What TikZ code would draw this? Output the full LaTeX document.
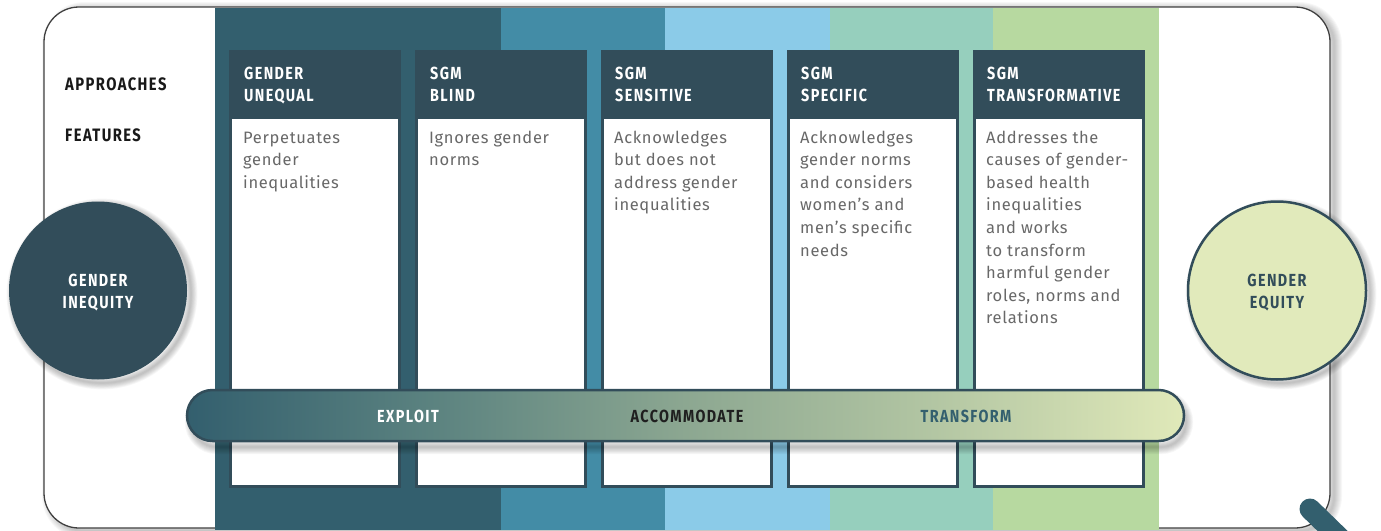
\documentclass[tikz,border=0pt]{standalone}
\usepackage{fontspec}
\setmainfont{Fira Sans}
\newfontfamily\hdrfont{Fira Sans}[FakeStretch=0.82,LetterSpace=8]
\newfontfamily\bdyfont{Fira Sans}[LetterSpace=4]
\definecolor{bandA}{HTML}{335F6E}
\definecolor{bandB}{HTML}{438CA6}
\definecolor{bandC}{HTML}{8BCBE8}
\definecolor{bandD}{HTML}{96CFBD}
\definecolor{bandE}{HTML}{B7D9A0}
\definecolor{hdrdark}{HTML}{324D5A}
\definecolor{eqfill}{HTML}{E1EABB}
\definecolor{bodytext}{HTML}{686868}
\definecolor{gA}{HTML}{335F6E}
\definecolor{gB}{HTML}{5C8380}
\definecolor{gC}{HTML}{8CA791}
\definecolor{gD}{HTML}{B3C6A3}
\definecolor{gE}{HTML}{E0E9B9}
\pgfdeclarehorizontalshading{barshade}{100bp}{color(0bp)=(gA); color(25bp)=(gA); color(37.5bp)=(gB); color(50bp)=(gC); color(62.5bp)=(gD); color(75bp)=(gE); color(100bp)=(gE)}
\begin{document}
\begin{tikzpicture}[x=1pt,y=-1pt,
  hdr/.style={inner sep=0pt, anchor=base west, text=white, font=\hdrfont\bfseries\fontsize{17.5}{22}\selectfont},
  lbl/.style={inner sep=0pt, anchor=base west, text=black!90, font=\hdrfont\bfseries\fontsize{18}{22}\selectfont},
  bdy/.style={inner sep=0pt, anchor=base west, text=bodytext, font=\bdyfont\fontsize{16.5}{22.6}\selectfont},
  ctext/.style={inner sep=0pt, anchor=base, font=\hdrfont\bfseries\fontsize{17.5}{22}\selectfont},
  headbox/.style={fill=hdrdark},
  bodybox/.style={fill=white, draw=hdrdark, line width=3pt},
  shadowline/.style={black, opacity=0.03}
]
\useasboundingbox (0,0) rectangle (1381,530);
% outer frame shadow and frame
\foreach \i in {1,...,8} \draw[shadowline, line width=\i*2pt, rounded corners=35pt] (50,10) rectangle (1334,531);
\draw[draw=black!75, line width=1.3pt, fill=white, rounded corners=35pt] (44,7) rectangle (1330,528);
% bands
\fill[bandA] (215,8) rectangle (501,530);
\fill[bandB] (501,8) rectangle (665,530);
\fill[bandC] (665,8) rectangle (830,530);
\fill[bandD] (830,8) rectangle (993,530);
\fill[bandE] (993,8) rectangle (1159,530);
% columns
\foreach \x in {229,415,601,787,973} {
  \fill[headbox] (\x,50) rectangle (\x+172,117);
  \draw[bodybox] (\x+1.5,117) rectangle (\x+170.5,486);
}
% left labels
\node[lbl] (appr) at (65,90) {APPROACHES};
\node[lbl] (feat) at (65,141.7) {FEATURES};
% headers
\node[hdr] (h1) at (244,79) {\parbox[t]{160pt}{\raggedright GENDER\\UNEQUAL}};
\node[hdr] (h2) at (430,79) {\parbox[t]{160pt}{\raggedright SGM\\BLIND}};
\node[hdr] (h3) at (615,79) {\parbox[t]{160pt}{\raggedright SGM\\SENSITIVE}};
\node[hdr] (h4) at (801,79) {\parbox[t]{160pt}{\raggedright SGM\\SPECIFIC}};
\node[hdr] (h5) at (987,79) {\parbox[t]{160pt}{\raggedright SGM\\TRANSFORMATIVE}};
% bodies
\node[bdy] (b1) at (243,143) {\parbox[t]{155pt}{\raggedright Perpetuates\\gender\\inequalities}};
\node[bdy] (b2) at (429,143) {\parbox[t]{155pt}{\raggedright Ignores gender\\norms}};
\node[bdy] (b3) at (614,143) {\parbox[t]{155pt}{\raggedright Acknowledges\\but does not\\address gender\\inequalities}};
\node[bdy] (b4) at (800,143) {\parbox[t]{155pt}{\raggedright Acknowledges\\gender norms\\and considers\\women’s and\\men’s specific\\needs}};
\node[bdy] (b5) at (986,143) {\parbox[t]{155pt}{\raggedright Addresses the\\causes of gender-\\based health\\inequalities\\and works\\to transform\\harmful gender\\roles, norms and\\relations}};
% circles
\foreach \i in {1,...,8} \draw[shadowline, line width=\i*1.6pt] (102,294) circle[radius=89pt];
\node[circle, fill=hdrdark, minimum size=178pt, inner sep=0pt] (ineq) at (98,290.5) {};
\node[ctext, text=white] (ineqt) at (98,286.5) {\parbox[t]{150pt}{\centering GENDER\\INEQUITY}};
\foreach \i in {1,...,8} \draw[shadowline, line width=\i*1.6pt] (1281,294) circle[radius=89pt];
\node[circle, fill=eqfill, draw=hdrdark, line width=2.5pt, minimum size=178pt, inner sep=0pt] (eq) at (1277,290.5) {};
\node[ctext, text=hdrdark] (eqt) at (1277,286.5) {\parbox[t]{150pt}{\centering GENDER\\EQUITY}};
% bar
\foreach \i in {1,...,8} \draw[shadowline, line width=\i*1.8pt, rounded corners=25pt] (192,397) rectangle (1186,447);
\node[draw=hdrdark, line width=2.5pt, rounded corners=25.5pt, minimum width=997pt, minimum height=51pt, shading=barshade, inner sep=0pt] (bar) at (685.5,415.5) {};
\node[ctext, text=white] (t1) at (408,422.5) {EXPLOIT};
\node[ctext, text=black!88] (t2) at (687,422.5) {ACCOMMODATE};
\node[ctext, text=bandA] (t3) at (966,422.5) {TRANSFORM};
% handle
\coordinate (hs) at (1310,509);
\coordinate (he) at (1348,546);
\draw[bandA, line width=21pt, line cap=round] (hs) -- (he);
\end{tikzpicture}
\end{document}
